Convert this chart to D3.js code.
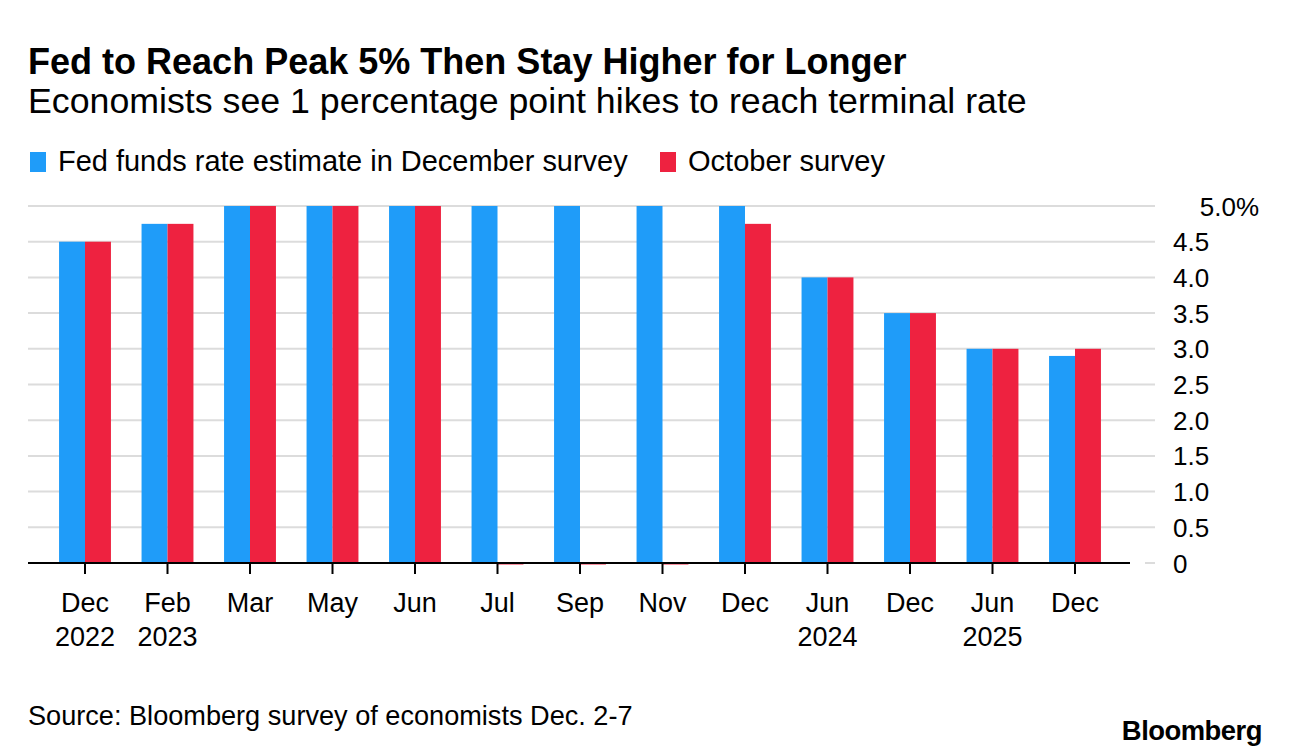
<!DOCTYPE html>
<html>
<head>
<meta charset="utf-8">
<script src="https://cdn.jsdelivr.net/npm/d3@7"></script>
<style>
  body { margin: 0; background: #fff; }
  svg text { font-family: "Liberation Sans", Arial, sans-serif; fill: #000; }
</style>
</head>
<body>
<div id="chart"></div>
<script>
const categories = ["Dec 2022", "Feb 2023", "Mar 2023", "May 2023", "Jun 2023", "Jul 2023", "Sep 2023",
  "Nov 2023", "Dec 2023", "Jun 2024", "Dec 2024", "Jun 2025", "Dec 2025"];
const monthLabels = ["Dec", "Feb", "Mar", "May", "Jun", "Jul", "Sep", "Nov", "Dec", "Jun", "Dec", "Jun", "Dec"];
const yearLabels = ["2022", "2023", "", "", "", "", "", "", "", "2024", "", "2025", ""];
const decemberSurvey = [4.5, 4.75, 5, 5, 5, 5, 5, 5, 5, 4, 3.5, 3, 2.9];
const octoberSurvey = [4.5, 4.75, 5, 5, 5, 0, 0, 0, 4.75, 4, 3.5, 3, 3];
const yTicks = [0, 0.5, 1, 1.5, 2, 2.5, 3, 3.5, 4, 4.5, 5];

const series = [
  { key: "dec", name: "Fed funds rate estimate in December survey", values: decemberSurvey, color: "#1f9cf9" },
  { key: "oct", name: "October survey", values: octoberSurvey, color: "#ee2240" }
];

const W = 1289, H = 756;
const svg = d3.select("#chart").append("svg").attr("width", W).attr("height", H);

// fit a text element to a target width by scaling its font size
function fit(sel, target) {
  const w = sel.node().getComputedTextLength();
  const fs = parseFloat(sel.attr("font-size"));
  sel.attr("font-size", fs * target / w);
}

fit(svg.append("text").attr("x", 28).attr("y", 74).attr("font-size", 30).attr("font-weight", 700)
  .text("Fed to Reach Peak 5% Then Stay Higher for Longer"), 879);
fit(svg.append("text").attr("x", 28).attr("y", 113).attr("font-size", 28)
  .text("Economists see 1 percentage point hikes to reach terminal rate"), 999);

// legend
const legendX = [30, 660];
series.forEach((s, i) => {
  svg.append("rect").attr("x", legendX[i]).attr("y", 152).attr("width", 16).attr("height", 20).attr("fill", s.color);
  const t = svg.append("text").attr("x", legendX[i] + 28).attr("y", 171).attr("font-size", 24).text(s.name);
  if (i === 0) fit(t, 570);
  else fit(t, 197);
});

const x0 = d3.scaleBand().domain(categories).range([43.75, 1116.25]);
const x1 = d3.scaleBand().domain(series.map(s => s.key)).range([0, x0.bandwidth()]).paddingOuter(0.59);
const y = d3.scaleLinear().domain([0, 5]).range([563, 206]);

// gridlines
svg.append("g").selectAll("line").data(yTicks).join("line")
  .attr("x1", d => d === 0 ? 1145 : 28).attr("x2", 1155)
  .attr("y1", d => y(d)).attr("y2", d => y(d))
  .attr("stroke", "#dcdcdc").attr("stroke-width", 2);

// y labels
svg.append("g").selectAll("text").data(yTicks).join("text")
  .attr("x", d => d === 5 ? 1259 : 1173)
  .attr("y", d => y(d) + 9.5)
  .attr("text-anchor", d => d === 5 ? "end" : "start")
  .attr("font-size", 26)
  .text(d => d === 5 ? "5.0%" : d === 0 ? "0" : d3.format(".1f")(d));

// bars
series.forEach(s => {
  svg.append("g").selectAll("rect").data(categories).join("rect")
    .attr("x", (c) => x0(c) + x1(s.key))
    .attr("width", x1.bandwidth())
    .attr("y", (c, i) => s.values[i] === 0 ? y(0) - 1 : y(s.values[i]))
    .attr("height", (c, i) => s.values[i] === 0 ? 2.5 : y(0) - y(s.values[i]))
    .attr("fill", s.color);
});

// baseline
svg.append("line").attr("x1", 28).attr("x2", 1130).attr("y1", y(0)).attr("y2", y(0))
  .attr("stroke", "#000").attr("stroke-width", 2);

// x axis ticks and labels
const xa = svg.append("g").selectAll("g").data(categories).join("g")
  .attr("transform", c => `translate(${x0(c) + x0.bandwidth() / 2},0)`);
xa.append("line").attr("y1", y(0)).attr("y2", y(0) + 11).attr("stroke", "#000").attr("stroke-width", 2);
xa.append("text").attr("y", 612).attr("text-anchor", "middle").attr("font-size", 27)
  .text((c, i) => monthLabels[i]);
xa.append("text").attr("y", 646).attr("text-anchor", "middle").attr("font-size", 27)
  .text((c, i) => yearLabels[i]);

// footer
fit(svg.append("text").attr("x", 28).attr("y", 725).attr("font-size", 22)
  .text("Source: Bloomberg survey of economists Dec. 2-7"), 605);
fit(svg.append("text").attr("x", 1262).attr("y", 740).attr("text-anchor", "end").attr("font-size", 26)
  .attr("font-weight", 700).attr("letter-spacing", -0.5).text("Bloomberg"), 140);
</script>
</body>
</html>
